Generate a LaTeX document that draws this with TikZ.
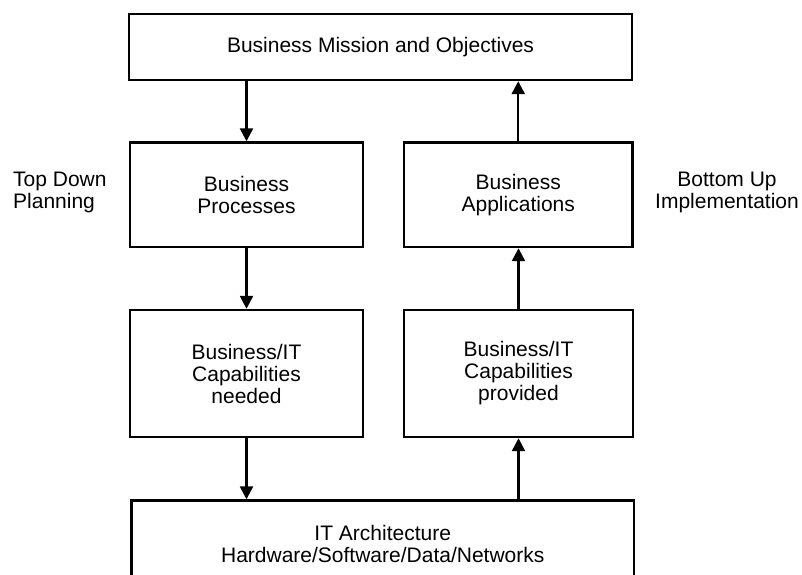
\documentclass[tikz,border=0pt]{standalone}
\usepackage{fontspec}
\setmainfont{Liberation Sans}
\usetikzlibrary{arrows.meta}
\tikzset{
  box/.style={draw, line width=2.4pt, inner sep=0pt, align=center,
    font=\fontsize{21}{22}\selectfont},
  side/.style={inner sep=0pt, font=\fontsize{21}{22}\selectfont},
  arr/.style={line width=2.4pt, -{Triangle[width=13pt,length=13pt]}}
}
\begin{document}
\begin{tikzpicture}[x=1pt,y=-1pt]
\useasboundingbox (0,0) rectangle (802,574);
\clip (0,0) rectangle (802,574);
\node[box, minimum width=503pt, minimum height=66pt] (top) at (380.5,47) {Business Mission and Objectives};
\node[box, minimum width=232.5pt, minimum height=104.5pt] (bp) at (246.5,194.75) {Business\\Processes};
\node[box, minimum width=228.5pt, minimum height=104.5pt] (ba) at (518.25,194.75) {Business\\Applications};
\node[box, minimum width=233pt, minimum height=127pt] (need) at (246.5,373.5) {Business/IT\\Capabilities\\needed};
\node[box, minimum width=229pt, minimum height=127pt] (prov) at (518.5,373.5) {Business/IT\\Capabilities\\provided};
\node[box, minimum width=502.5pt, minimum height=86pt] (arch) at (382.75,543.5) {IT Architecture\\Hardware/Software/Data/Networks};
\node[side, align=left, anchor=west] (tdp) at (13,192) {Top Down\\Planning};
\node[side, align=center] (bui) at (727,192) {Bottom Up\\Implementation};
\draw[arr] (top.south -| bp.north) -- (bp.north);
\draw[arr] (bp.south) -- (need.north);
\draw[arr] (need.south) -- (need.south |- arch.north);
\draw[arr] (prov.south |- arch.north) -- (prov.south);
\draw[arr] (prov.north) -- (prov.north |- ba.south);
\draw[arr] (ba.north) -- (ba.north |- top.south);
\end{tikzpicture}
\end{document}
